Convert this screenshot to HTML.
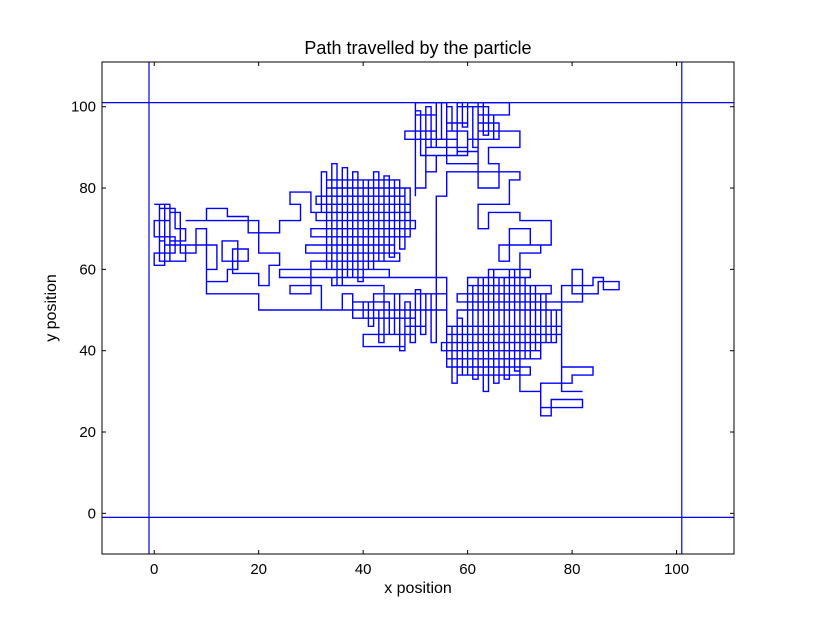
<!DOCTYPE html>
<html><head><meta charset="utf-8"><style>
body{margin:0;background:#fff;}
svg text{font-family:"Liberation Sans","DejaVu Sans",sans-serif;fill:#000;}
</style></head><body>
<svg id="chart" width="815" height="615" xmlns="http://www.w3.org/2000/svg">
<rect width="815" height="615" fill="#fff"/>
<text x="418" y="54" font-size="18" text-anchor="middle">Path travelled by the particle</text>
<text x="418" y="593" font-size="16" text-anchor="middle">x position</text>
<text x="56" y="308" font-size="16" text-anchor="middle" transform="rotate(-90 56 308)">y position</text>
<g id="plot"></g>
</svg>
<script>
const xTicks=[0,20,40,60,80,100];
const yTicks=[0,20,40,60,80,100];
const boundsX=[-1,101];
const boundsY=[-1,101];
const pathX=[0,3,3,0,0,4,4,0,0,2,2,1,1,4,4,6,6,3,3,6,6,12,12,10,10,14,14,16,16,13,13,18,18,15,15,20,20,22,22,24,24,20,20,18,18,14,14,10,10,6,20,24,24,28,28,26,26,30,30,33,
32,32,33,33,34,34,35,35,36,36,37,37,38,38,39,39,40,40,41,41,42,42,43,43,44,44,45,45,46,46,47,47,48,48,49,49,
30,30,50,50,31,31,49,49,31,31,48,48,33,33,46,46,29,29,47,47,30,30,45,45,34,34,44,
44,38,38,50,50,40,40,48,48,52,52,42,42,56,56,
32,26,26,30,30,24,24,28,56,
56,56,57,57,58,58,59,59,60,60,61,61,62,62,63,63,64,64,65,65,66,66,67,67,68,68,69,69,70,70,71,71,72,72,73,73,74,74,75,75,76,76,77,77,78,78,
78,56,56,77,77,55,55,74,74,56,56,72,72,58,58,78,78,58,58,76,76,60,60,72,72,64,
70,70,74,74,76,76,82,82,74,74,80,80,84,84,78,78,82,
78,84,84,86,86,89,89,85,85,80,80,82,82,78,
70,70,74,74,66,66,68,68,72,72,76,76,70,70,64,64,62,62,68,68,70,70,62,62,66,66,
64,64,70,70,62,62,68,68,60,60,56,56,50,50,54,54,48,48,58,58,54,54,52,52,60,60,56,56,62,62,58,58,64,64,66,66,60,60,52,52,50,50,
50,50,51,51,52,52,53,53,54,54,55,55,56,56,57,57,58,58,59,59,60,60,61,61,62,62,63,63,64,64,65,65,66,66,
62,56,
54,54,53,53,52,52,51,51,50,50,49,49,48,48,47,47,46,46,45,45,44,44,43,43,42,42,41,41,40,40,38,38,36,36,
20,10,2,2,1,1,3,3,5,5,8,8,10,10];
const pathY=[76,76,72,72,68,68,64,64,61,61,67,67,75,75,70,70,67,67,62,62,66,66,60,60,57,57,60,60,67,67,62,62,65,65,59,59,56,56,61,61,64,64,69,69,73,73,75,75,72,72,69,69,72,72,76,76,79,79,74,74,
74,84,84,60,60,86,86,56,56,85,85,58,58,84,84,57,57,82,82,60,60,84,84,62,62,83,83,63,63,82,82,65,65,80,80,68,
68,70,70,72,72,74,74,76,76,78,78,80,80,82,82,66,66,64,64,62,62,60,60,58,58,56,56,
52,52,48,48,44,44,41,41,46,46,50,50,54,54,50,
56,56,54,54,60,60,58,58,54,
36,46,46,32,32,48,48,34,34,56,56,33,33,58,58,30,30,60,60,32,32,58,58,33,33,60,60,35,35,58,58,38,38,56,56,40,40,54,54,42,42,50,50,44,44,48,
46,46,44,44,42,42,40,40,38,38,36,36,34,34,50,50,52,52,54,54,56,56,58,58,60,60,
60,30,30,24,24,28,28,26,26,32,32,34,34,36,36,30,30,
56,56,58,58,55,55,57,57,54,54,60,60,52,52,
60,64,64,66,66,62,62,70,70,66,66,72,72,74,74,70,70,76,76,82,82,84,84,80,80,86,
86,90,90,94,94,98,98,101,101,96,96,101,101,98,98,94,94,92,92,88,88,84,84,90,90,94,94,86,86,89,89,100,100,96,96,92,92,88,88,80,80,78,
86,99,99,88,88,100,100,90,90,101,101,92,92,100,100,94,94,101,101,95,95,100,100,90,90,101,101,93,93,98,98,92,92,96,
84,78,
56,42,42,54,54,44,44,55,55,42,42,52,52,40,40,54,54,44,44,52,52,42,42,50,50,46,46,52,52,48,48,54,54,50,
54,66,66,76,76,62,62,74,74,64,64,70,70,62];
const X0=102,X1=734,Y0=554,Y1=62,DMIN=-10,DMAX=111;
function sx(v){return X0+(v-DMIN)/(DMAX-DMIN)*(X1-X0);}
function sy(v){return Y0-(v-DMIN)/(DMAX-DMIN)*(Y0-Y1);}
const NS="http://www.w3.org/2000/svg";
const g=document.getElementById('plot');
function mk(t,a){const e=document.createElementNS(NS,t);for(const k in a)e.setAttribute(k,a[k]);g.appendChild(e);return e;}
let d="M"+sx(pathX[0]).toFixed(1)+","+sy(pathY[0]).toFixed(1);
for(let i=1;i<pathX.length;i++){d+=" H"+sx(pathX[i]).toFixed(1)+" V"+sy(pathY[i]).toFixed(1);}
const p=mk('path',{d:d,fill:'none',stroke:'#0000ff','stroke-width':1.4});


boundsX.forEach(v=>{const l=mk('line',{x1:sx(v),x2:sx(v),y1:Y1,y2:Y0,stroke:'#0000ff','stroke-width':1.2});

});
boundsY.forEach(v=>{const l=mk('line',{x1:X0,x2:X1,y1:sy(v),y2:sy(v),stroke:'#0000ff','stroke-width':1.2});

});
const fr=mk('rect',{x:X0,y:Y1,width:X1-X0,height:Y0-Y1,fill:'none',stroke:'#000','stroke-width':1});


xTicks.forEach(v=>{const x=sx(v);
mk('line',{x1:x,x2:x,y1:Y0,y2:Y0-4,stroke:'#000'});mk('line',{x1:x,x2:x,y1:Y1,y2:Y1+4,stroke:'#000'});
const t=mk('text',{x:x,y:Y0+20,'font-size':15,'text-anchor':'middle'});t.textContent=v;

});
yTicks.forEach(v=>{const y=sy(v);
mk('line',{x1:X0,x2:X0+4,y1:y,y2:y,stroke:'#000'});mk('line',{x1:X1,x2:X1-4,y1:y,y2:y,stroke:'#000'});
const t=mk('text',{x:X0-6,y:y+5,'font-size':15,'text-anchor':'end'});t.textContent=v;

});
</script>
</body></html>
